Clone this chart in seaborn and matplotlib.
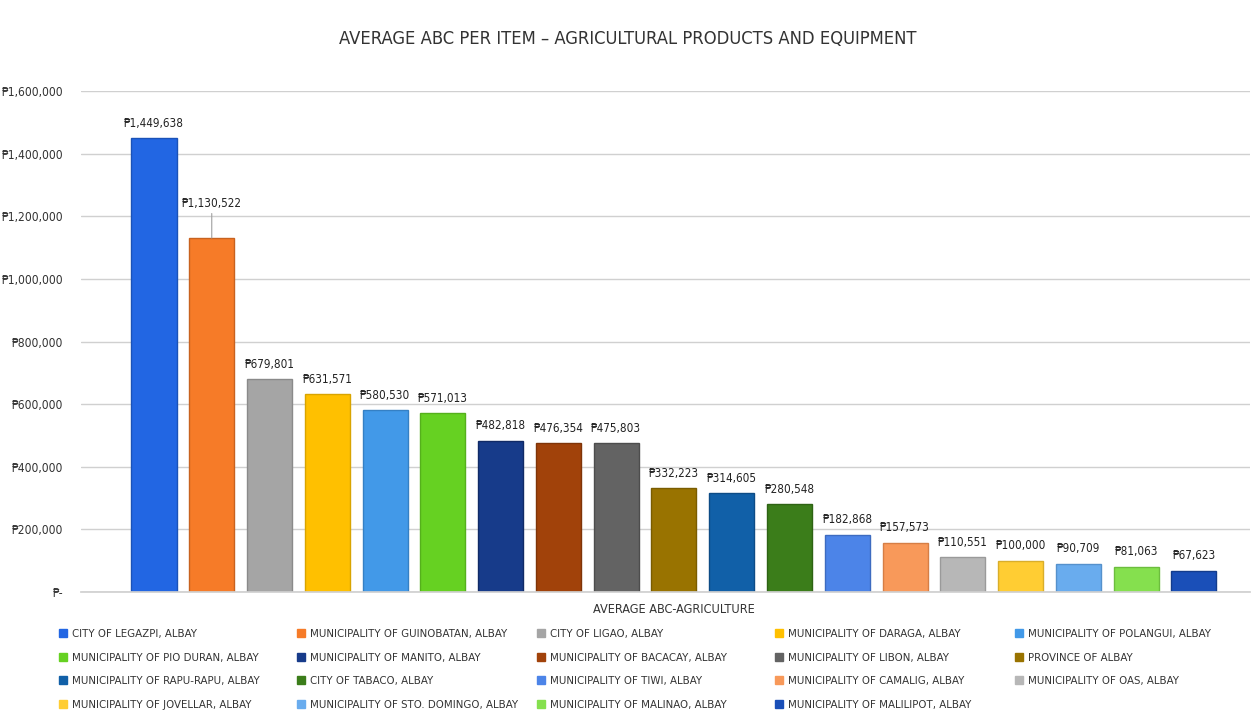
import matplotlib
matplotlib.use("Agg")
import matplotlib.pyplot as plt
from matplotlib import font_manager
from matplotlib.font_manager import FontProperties
import seaborn as sns
import pandas as pd
from matplotlib.lines import Line2D

categories = [
    "CITY OF LEGAZPI, ALBAY",
    "MUNICIPALITY OF GUINOBATAN, ALBAY",
    "CITY OF LIGAO, ALBAY",
    "MUNICIPALITY OF DARAGA, ALBAY",
    "MUNICIPALITY OF POLANGUI, ALBAY",
    "MUNICIPALITY OF PIO DURAN, ALBAY",
    "MUNICIPALITY OF MANITO, ALBAY",
    "MUNICIPALITY OF BACACAY, ALBAY",
    "MUNICIPALITY OF LIBON, ALBAY",
    "PROVINCE OF ALBAY",
    "MUNICIPALITY OF RAPU-RAPU, ALBAY",
    "CITY OF TABACO, ALBAY",
    "MUNICIPALITY OF TIWI, ALBAY",
    "MUNICIPALITY OF CAMALIG, ALBAY",
    "MUNICIPALITY OF OAS, ALBAY",
    "MUNICIPALITY OF JOVELLAR, ALBAY",
    "MUNICIPALITY OF STO. DOMINGO, ALBAY",
    "MUNICIPALITY OF MALINAO, ALBAY",
    "MUNICIPALITY OF MALILIPOT, ALBAY",
]
values = [1449638, 1130522, 679801, 631571, 580530, 571013, 482818, 476354,
          475803, 332223, 314605, 280548, 182868, 157573, 110551, 100000,
          90709, 81063, 67623]
colors = ["#2266E3", "#F67B28", "#A5A5A5", "#FFC000", "#4299E8", "#66D122",
          "#173B8A", "#A1420A", "#636363", "#997300", "#1160A8", "#3B7D1A",
          "#4C84E8", "#F8995A", "#B7B7B7", "#FFCD33", "#69ACEE", "#85E04E",
          "#1A4FB8"]
edge_colors = ["#1a52b8", "#c8621f", "#8a8a8a", "#d9a400", "#3580c4", "#55b01c",
               "#102a66", "#7f3408", "#4d4d4d", "#7a5c00", "#0d4c86", "#2e6314",
               "#3d6bc0", "#d67e45", "#9a9a9a", "#d9ae2a", "#5591cc", "#6cbd3e",
               "#133c8c"]
yticks = [0, 200000, 400000, 600000, 800000, 1000000, 1200000, 1400000, 1600000]
ytick_labels = ["₱-", "₱200,000", "₱400,000", "₱600,000", "₱800,000",
                "₱1,000,000", "₱1,200,000", "₱1,400,000", "₱1,600,000"]
title = "AVERAGE ABC PER ITEM – AGRICULTURAL PRODUCTS AND EQUIPMENT"
category_label = "AVERAGE ABC-AGRICULTURE"

sns.set_theme(style="white")
plt.rcParams["font.family"] = ["Roboto", "DejaVu Sans"]

# pick a condensed font file if one is installed (closest to Calibri look)
font_file = None
prefs = ["LiberationSansNarrow-Regular", "NotoSans-Condensed.", "NotoSans-SemiCondensed.",
         "DejaVuSansCondensed.ttf", "RobotoCondensed-Regular", "OpenSans_Condensed-Regular"]
all_files = [f.fname for f in font_manager.fontManager.ttflist]
for p in prefs:
    hit = [fn for fn in all_files if p.lower() in fn.lower()]
    if hit:
        font_file = hit[0]
        break


def fp(size):
    if font_file:
        return FontProperties(fname=font_file, size=size)
    return FontProperties(family=["Roboto", "DejaVu Sans"], size=size)


df = pd.DataFrame({"name": categories, "value": values})

fig = plt.figure(figsize=(12.56, 7.25), dpi=100)
renderer = fig.canvas.get_renderer()


def fit_size(s, target_px, base=10.0):
    t = fig.text(0, 0, s, fontproperties=fp(base))
    w = t.get_window_extent(renderer).width
    t.remove()
    return base * target_px / w


fs_legend = fit_size("MUNICIPALITY OF GUINOBATAN, ALBAY", 164) * 1.2
fs_title = fit_size(title, 562) * 1.03
fs_ytick = fit_size("₱1,600,000", 59) * 1.05
fs_label = fit_size("₱1,449,638", 57) * 1.05
fs_cat = fit_size(category_label, 148) * 1.1

ax = fig.add_axes([81 / 1256, 1 - 592 / 725, (1250 - 81) / 1256, (592 - 91) / 725])

sns.barplot(data=df, x="name", y="value", hue="name", order=categories,
            hue_order=categories, palette=colors, dodge=False, legend=False,
            width=0.78, ax=ax, saturation=1)

for patch, ec in zip(ax.patches, edge_colors):
    patch.set_edgecolor(ec)
    patch.set_linewidth(1.0)

ax.set_xlim(-1.263, 18.97)
ax.set_ylim(0, 1600000)
ax.set_yticks(yticks)
ax.set_yticklabels(ytick_labels, fontproperties=fp(fs_ytick), color="#333333")
ax.yaxis.grid(True, color="#d0d0d0", linewidth=1)
ax.set_axisbelow(True)
ax.tick_params(axis="y", length=0, pad=13)
ax.set_xticks([9])
ax.set_xticklabels([category_label], fontproperties=fp(fs_cat), color="#333333")
ax.tick_params(axis="x", length=0, pad=8)
ax.set_xlabel("")
ax.set_ylabel("")
for s in ["top", "right", "left"]:
    ax.spines[s].set_visible(False)
ax.spines["bottom"].set_color("#d0d0d0")

for i, v in enumerate(values):
    if i == 1:
        ax.annotate(f"₱{v:,}", xy=(i, v), xytext=(0, 20), textcoords="offset points",
                    ha="center", va="bottom", fontproperties=fp(fs_label), color="#222222",
                    arrowprops=dict(arrowstyle="-", color="#a0a0a0", lw=0.8,
                                    shrinkA=0, shrinkB=0))
    else:
        ax.annotate(f"₱{v:,}", xy=(i, v), xytext=(0, 6), textcoords="offset points",
                    ha="center", va="bottom", fontproperties=fp(fs_label), color="#222222")

fig.text(0.5, 1 - 39 / 725, title, ha="center", va="center",
         fontproperties=fp(fs_title), color="#333333")

# Legend: 5 columns x 4 rows, filled row by row
col_x = [60, 298, 538, 776, 1016]
row_y = [634, 658, 681, 705]
ncols = 5
for i, name in enumerate(categories):
    r, c = divmod(i, ncols)
    h = Line2D([], [], marker="s", linestyle="none", markersize=5.5,
               markerfacecolor=colors[i], markeredgecolor=colors[i])
    fig.legend([h], [name], loc="center left",
               bbox_to_anchor=(col_x[c] / 1256, 1 - row_y[r] / 725),
               frameon=False, prop=fp(fs_legend), handlelength=0.6,
               handletextpad=0.45, borderpad=0, borderaxespad=0,
               labelcolor="#333333")

fig.savefig("out.png", dpi=100, facecolor="white")
